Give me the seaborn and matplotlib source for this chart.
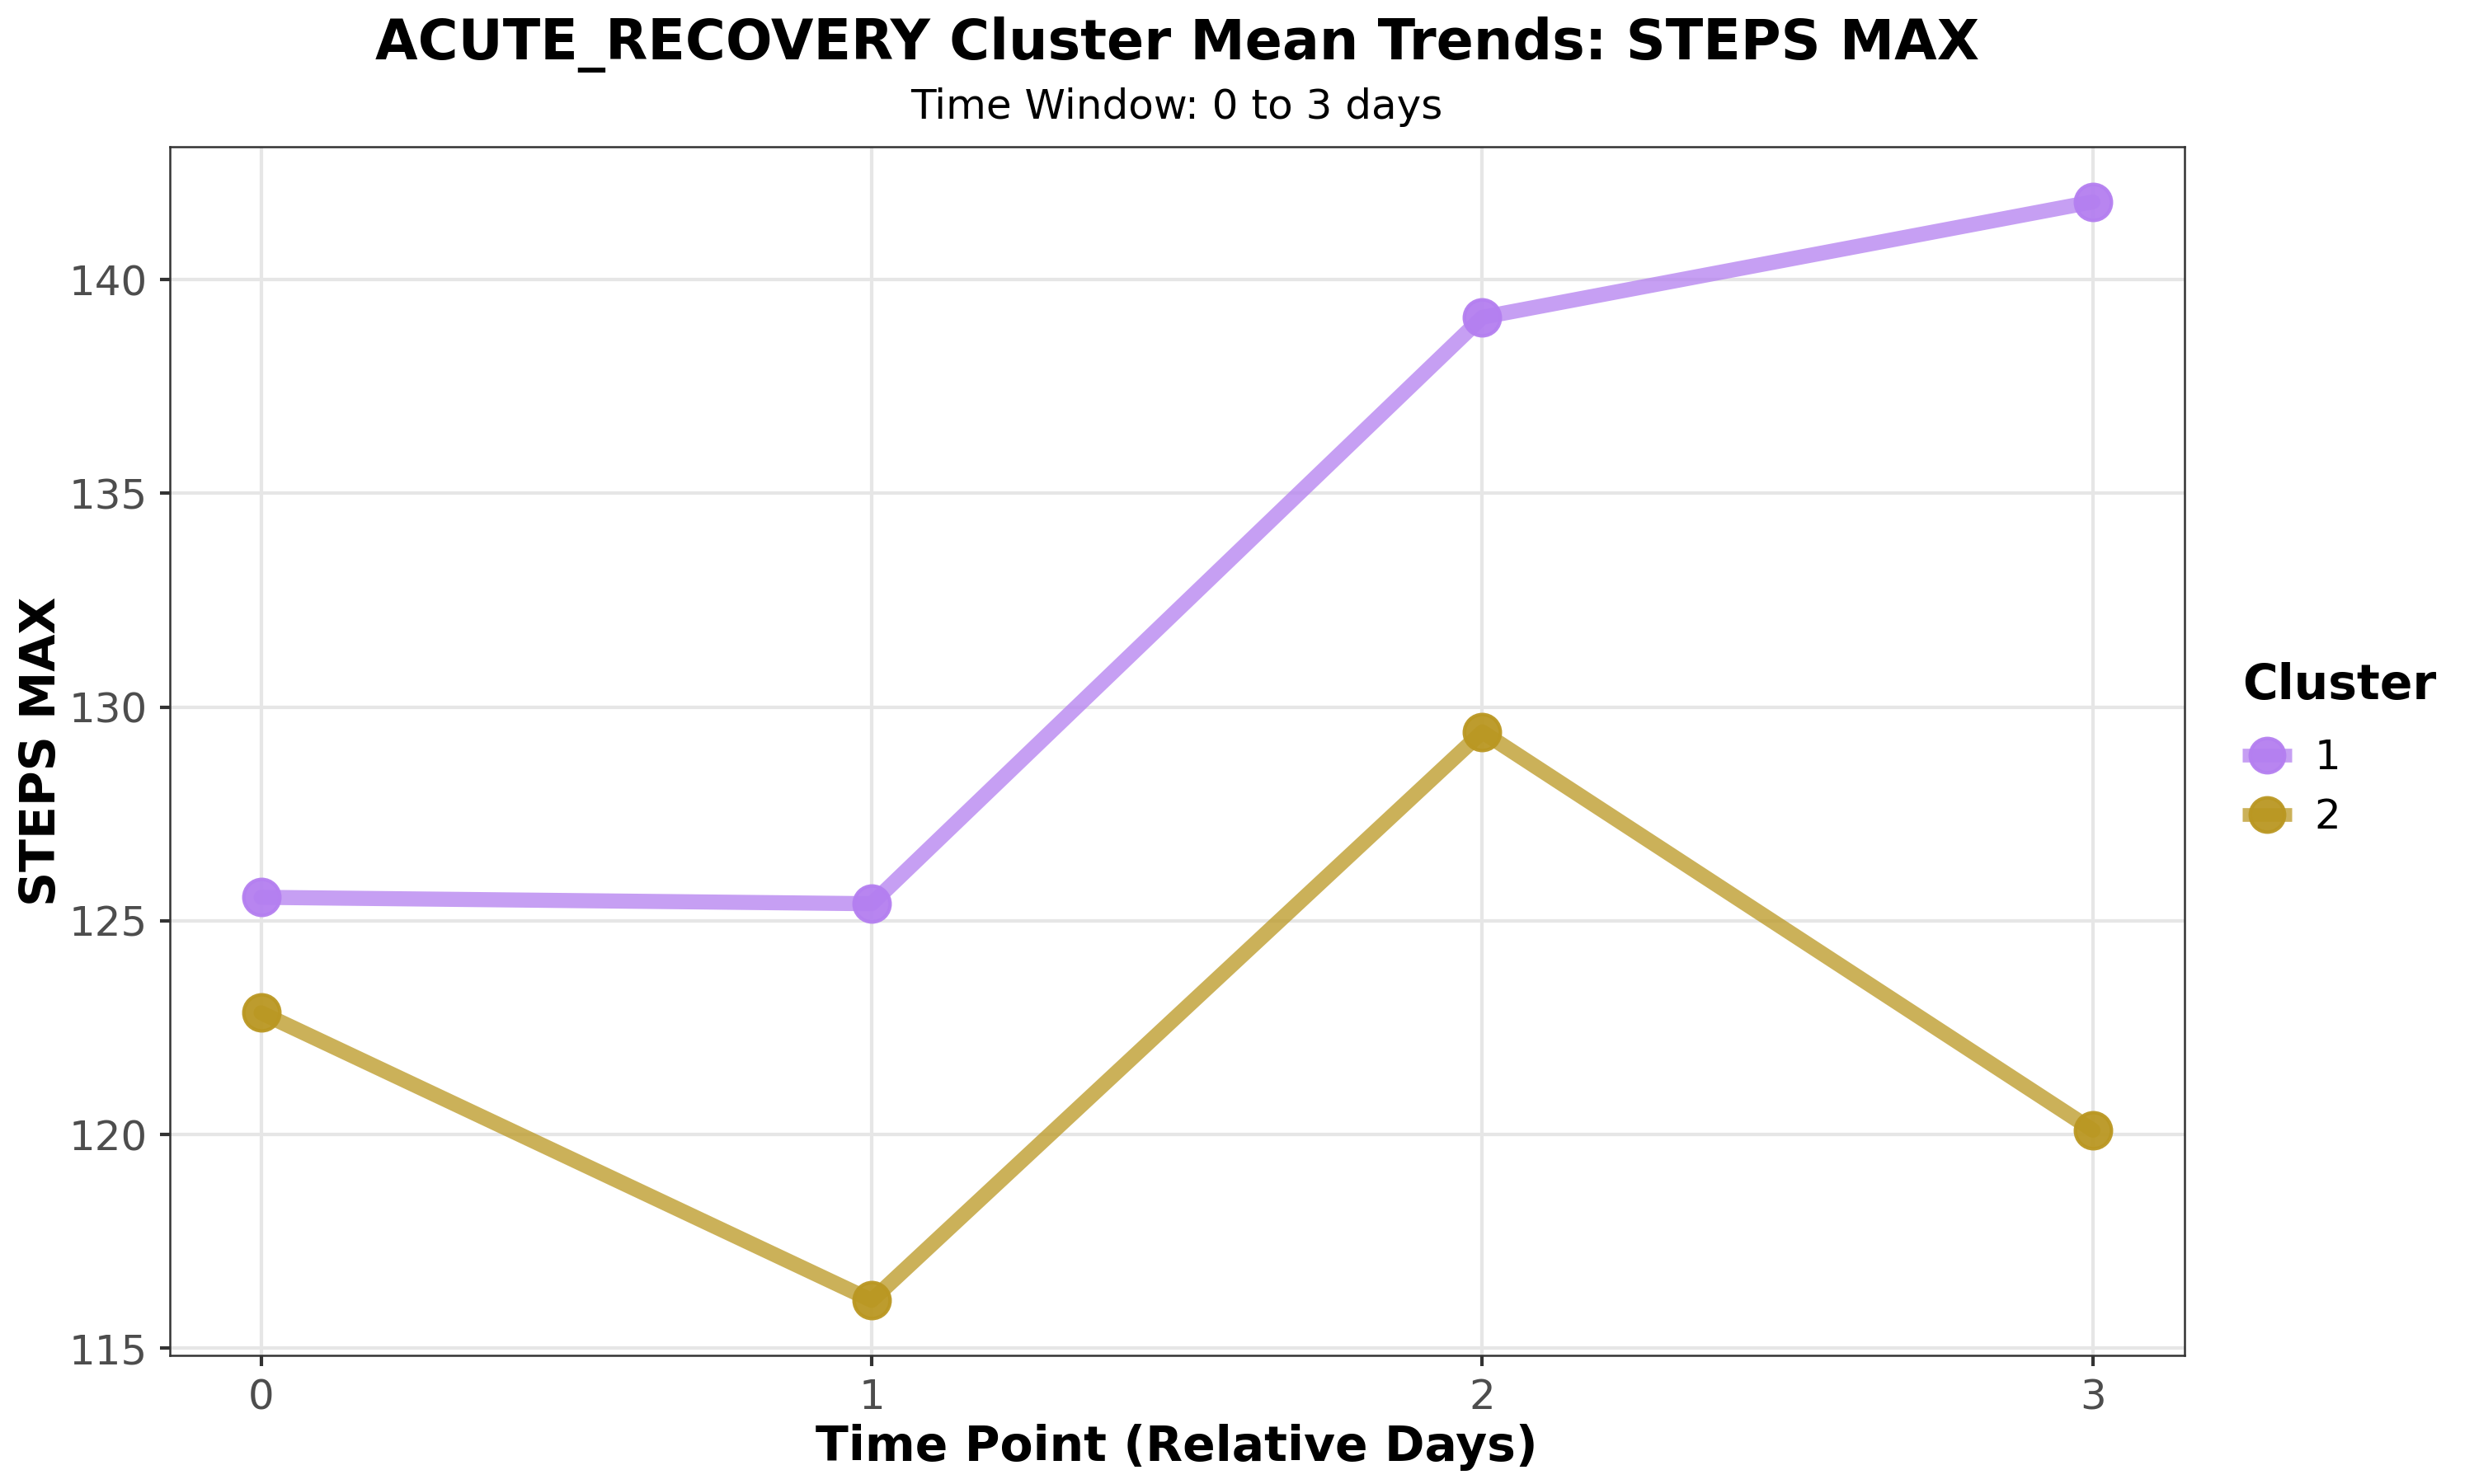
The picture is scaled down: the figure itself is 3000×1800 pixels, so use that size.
import pandas as pd
import matplotlib.pyplot as plt
import seaborn as sns
from matplotlib.colors import to_rgba
from matplotlib.lines import Line2D

# --- data ---
time_points = [0, 1, 2, 3]
cluster_1 = [125.55, 125.40, 139.12, 141.82]
cluster_2 = [122.85, 116.12, 129.42, 120.10]
cluster_names = ["1", "2"]
colors = {"1": "#B47FF0", "2": "#BA9722"}

df = pd.DataFrame({
    "Time": time_points * 2,
    "Value": cluster_1 + cluster_2,
    "Cluster": ["1"] * len(time_points) + ["2"] * len(time_points),
})

sns.set_style("white")
plt.rcParams["font.family"] = ["DejaVu Sans"]
plt.rcParams["text.color"] = "black"
plt.rcParams["axes.labelcolor"] = "black"

fig = plt.figure(figsize=(10, 6), dpi=300)
ax = fig.add_axes([0.0685, 0.0867, 0.8145, 0.8143])

sns.lineplot(data=df, x="Time", y="Value", hue="Cluster", palette=colors,
             marker="o", markersize=10.5, linewidth=4.4, legend=False, ax=ax)

# lighter line, stronger marker
for line, name in zip(ax.lines, cluster_names):
    c = colors[name]
    line.set_color(to_rgba(c, 0.75))
    line.set_markerfacecolor(to_rgba(c, 0.95))
    line.set_markeredgecolor(to_rgba(c, 0.95))
    line.set_markeredgewidth(1)

# ggplot theme_bw look
ax.grid(True, color="#E6E6E6", linewidth=1)
ax.set_axisbelow(True)
for sp in ax.spines.values():
    sp.set_color("#333333")
    sp.set_linewidth(0.6)
ax.set_xticks(time_points)
ax.tick_params(axis="both", labelsize=12, labelcolor="#4D4D4D", color="#333333",
               length=3, width=1, direction="out", bottom=True, left=True)

ax.set_xlabel("Time Point (Relative Days)", fontsize=14, fontweight="bold", labelpad=2)
ax.set_ylabel("STEPS MAX", fontsize=14, fontweight="bold", labelpad=1)

cx = 0.0685 + 0.8145 / 2
fig.text(cx, 0.960, "ACUTE_RECOVERY Cluster Mean Trends: STEPS MAX",
         ha="center", va="baseline", fontsize=16, fontweight="bold")
fig.text(cx, 0.920, "Time Window: 0 to 3 days", ha="center", va="baseline", fontsize=12)

handles = []
for name in cluster_names:
    c = colors[name]
    handles.append(Line2D([0], [0], color=to_rgba(c, 0.75), linewidth=4, marker="o",
                          markersize=10, markerfacecolor=to_rgba(c, 0.95),
                          markeredgecolor=to_rgba(c, 0.95), solid_capstyle="butt"))
leg = fig.legend(handles, cluster_names, title="Cluster", loc="upper left",
                 bbox_to_anchor=(0.898, 0.568), frameon=False, fontsize=12,
                 title_fontproperties={"weight": "bold", "size": 14},
                 handlelength=1.2, handletextpad=0.55, labelspacing=0.48,
                 borderpad=0, alignment="left")
leg._legend_box.sep = 8.5

fig.savefig("out.png", dpi=300)
